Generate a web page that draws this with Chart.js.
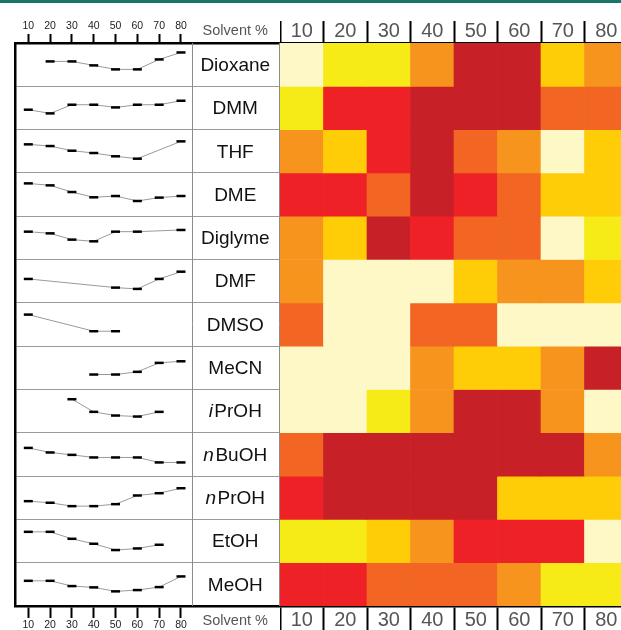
<!DOCTYPE html>
<html>
<head>
<meta charset="utf-8">
<script src="https://cdn.jsdelivr.net/npm/chart.js@4.4.0/dist/chart.umd.min.js"></script>
<style>
  html, body { margin: 0; padding: 0; width: 621px; height: 630px; overflow: hidden; background: #fff; }
  #topline { position: absolute; left: 0; top: 0; width: 621px; height: 3px; background: #17766b; }
  #profileChart { position: absolute; left: 0; top: 0; }
  #heatChart { position: absolute; left: 280px; top: 0; }
</style>
</head>
<body>
<div id="topline"></div>
<canvas id="profileChart" width="280" height="630"></canvas>
<canvas id="heatChart" width="348" height="630"></canvas>
<script>
// ---- data ----
const solvents = ['Dioxane', 'DMM', 'THF', 'DME', 'Diglyme', 'DMF', 'DMSO', 'MeCN', 'iPrOH', 'nBuOH', 'nPrOH', 'EtOH', 'MeOH'];
const italicPrefix = { iPrOH: 'i', nBuOH: 'n', nPrOH: 'n' };
const solventPercent = [10, 20, 30, 40, 50, 60, 70, 80];
const percentLabels = ['10', '20', '30', '40', '50', '60', '70', '80'];

// heat map levels, 0 = pale .. 6 = dark red
const heatLevels = [
    [0, 1, 1, 3, 6, 6, 2, 3],   // Dioxane
    [1, 5, 5, 6, 6, 6, 4, 4],   // DMM
    [3, 2, 5, 6, 4, 3, 0, 2],   // THF
    [5, 5, 4, 6, 5, 4, 2, 2],   // DME
    [3, 2, 6, 5, 4, 4, 0, 1],   // Diglyme
    [3, 0, 0, 0, 2, 3, 3, 2],   // DMF
    [4, 0, 0, 4, 4, 0, 0, 0],   // DMSO
    [0, 0, 0, 3, 2, 2, 3, 6],   // MeCN
    [0, 0, 1, 3, 6, 6, 3, 0],   // iPrOH
    [4, 6, 6, 6, 6, 6, 6, 3],   // nBuOH
    [5, 6, 6, 6, 6, 2, 2, 2],   // nPrOH
    [1, 1, 2, 3, 5, 5, 5, 0],   // EtOH
    [5, 5, 4, 4, 4, 3, 1, 1]    // MeOH
];
const levelColors = ['#fdf8c6', '#f6eb16', '#fecd07', '#f7941e', '#f26522', '#ee2226', '#c82027'];

// small profile per solvent (null = not measured)
const profileValues = [
    [null, 25, 25, 21, 17, 17, 27, 34],
    [20, 16.3, 25, 25, 22.3, 25, 25, 29],
    [28.7, 27, 22.3, 20, 16.7, 14.3, null, 31.7],
    [33, 31, 24.3, 19, 20.3, 15.3, 18.7, 20.3],
    [28, 26.3, 20, 18.3, 28, 28, null, 29.7],
    [24, null, null, null, 15.3, 14, 24, 31.3],
    [31.7, null, null, 15, 15, null, null, null],
    [null, null, null, 15, 15, 17.7, 26.7, 28.3],
    [null, null, 33.7, 21, 17.3, 16.3, 21, null],
    [28.3, 23.7, 21.3, 18.7, 18.7, 18.7, 13.7, 13.7],
    [18.3, 16.7, 13.3, 13.3, 15.3, 24, 26.3, 31.3],
    [31, 31, 24, 19, 12.7, 14.3, 18, null],
    [25.3, 25.3, 20, 18.7, 14.7, 16, 19, 29.7]
];
const ROW_SPAN = 43.5;   // profile units per row

// ---- layout ----
const FONT = "'Liberation Sans', Arial, Helvetica, sans-serif";
const X_MIN = 3.9, X_MAX = 125.4;   // puts 10..80 over the left part of the panel
const LABEL_COL_LEFT = 192.5;
Chart.defaults.font.family = FONT;

const panelDecor = {
    id: 'panelDecor',
    afterDraw(chart) {
        const ctx = chart.ctx;
        const area = chart.chartArea;
        const y = chart.scales.y;
        ctx.save();
        ctx.strokeStyle = '#8c8c8c';
        ctx.lineWidth = 1;
        ctx.beginPath();
        ctx.moveTo(LABEL_COL_LEFT, area.top);
        ctx.lineTo(LABEL_COL_LEFT, area.bottom);
        ctx.moveTo(area.right - 0.5, area.top);
        ctx.lineTo(area.right - 0.5, area.bottom);
        ctx.stroke();

        const cx = (LABEL_COL_LEFT + area.right) / 2 - 1;
        ctx.fillStyle = '#111';
        ctx.textBaseline = 'middle';
        ctx.textAlign = 'left';
        solvents.forEach((name, i) => {
            const cy = y.getPixelForValue(i + 0.5) + 1;
            const pre = italicPrefix[name] || '';
            const rest = name.slice(pre.length);
            ctx.font = 'italic 19px ' + FONT;
            const wPre = pre ? ctx.measureText(pre).width + 1.5 : 0;
            ctx.font = '19px ' + FONT;
            const wRest = ctx.measureText(rest).width;
            let x = cx - (wPre + wRest) / 2;
            if (pre) {
                ctx.font = 'italic 19px ' + FONT;
                ctx.fillText(pre, x, cy);
                x += wPre;
            }
            ctx.font = '19px ' + FONT;
            ctx.fillText(rest, x, cy);
        });

        ctx.fillStyle = '#555';
        ctx.textAlign = 'center';
        ctx.font = '14.5px ' + FONT;
        ctx.fillText('Solvent %', cx, 31);
        ctx.fillText('Solvent %', cx, 621);
        ctx.restore();
    }
};

const profileDatasets = profileValues.map((vals, r) => ({
    label: solvents[r],
    data: vals.map((v, c) => (v === null ? null : { x: solventPercent[c], y: r + 1 - v / ROW_SPAN }))
              .filter(p => p !== null),
    borderColor: '#9a9a9a',
    borderWidth: 1,
    pointStyle: 'line',
    pointRadius: 4.5,
    pointBorderWidth: 2.5,
    pointBorderColor: '#000',
    pointBackgroundColor: '#000',
    tension: 0
}));

function percentAxis(position, height, tickLen, pad) {
    return {
        type: 'linear',
        position: position,
        min: X_MIN,
        max: X_MAX,
        afterBuildTicks: s => { s.ticks = solventPercent.map(v => ({ value: v })); },
        afterFit: s => { s.height = height; s.paddingLeft = 0; s.paddingRight = 0; },
        grid: { drawOnChartArea: false, tickLength: tickLen, tickWidth: 2, tickColor: '#000' },
        border: { display: true, color: '#000', width: 2.5 },
        ticks: { font: { size: 10.5 }, color: '#222', padding: pad, maxRotation: 0, autoSkip: false,
                 callback: v => String(v) }
    };
}

new Chart(document.getElementById('profileChart'), {
    type: 'line',
    data: { datasets: profileDatasets },
    options: {
        responsive: false,
        animation: false,
        events: [],
        layout: { autoPadding: false, padding: { left: 15, right: 0, top: 0, bottom: 0 } },
        plugins: { legend: { display: false }, tooltip: { enabled: false } },
        scales: {
            x: percentAxis('top', 43, 9, 2),
            x2: percentAxis('bottom', 24, 12, 1),
            y: {
                type: 'linear',
                min: 0,
                max: 13,
                reverse: true,
                afterBuildTicks: s => { s.ticks = Array.from({ length: 14 }, (_, i) => ({ value: i })); },
                afterFit: s => { s.width = 0; s.paddingTop = 0; s.paddingBottom = 0; },
                ticks: { display: false },
                grid: { color: '#9a9a9a', lineWidth: 1, drawTicks: false },
                border: { display: true, color: '#000', width: 2.5 }
            }
        }
    },
    plugins: [panelDecor]
});

function heatAxis(position, height, tickLen) {
    return {
        type: 'category',
        labels: percentLabels,
        position: position,
        offset: true,
        stacked: true,
        afterFit: s => { s.height = height; s.paddingLeft = 0; s.paddingRight = 0; },
        grid: { offset: true, drawOnChartArea: false, tickLength: tickLen, tickWidth: 2, tickColor: '#000' },
        border: { display: true, color: '#000', width: 2.5 },
        ticks: { font: { size: 20 }, color: '#555', padding: -22, maxRotation: 0, autoSkip: false }
    };
}

new Chart(document.getElementById('heatChart'), {
    type: 'bar',
    data: {
        labels: percentLabels,
        datasets: solvents.map((name, r) => ({
            label: name,
            data: percentLabels.map(() => 1),
            backgroundColor: heatLevels[r].map(l => levelColors[l]),
            borderWidth: 0,
            barPercentage: 1,
            categoryPercentage: 1,
            xAxisID: 'x',
            yAxisID: 'y'
        }))
    },
    options: {
        responsive: false,
        animation: false,
        events: [],
        layout: { autoPadding: false, padding: 0 },
        plugins: { legend: { display: false }, tooltip: { enabled: false } },
        scales: {
            x: heatAxis('top', 43, 22),
            x2: heatAxis('bottom', 24, 24),
            y: { stacked: true, min: 0, max: 13, reverse: true, display: false }
        }
    }
});
</script>
</body>
</html>
